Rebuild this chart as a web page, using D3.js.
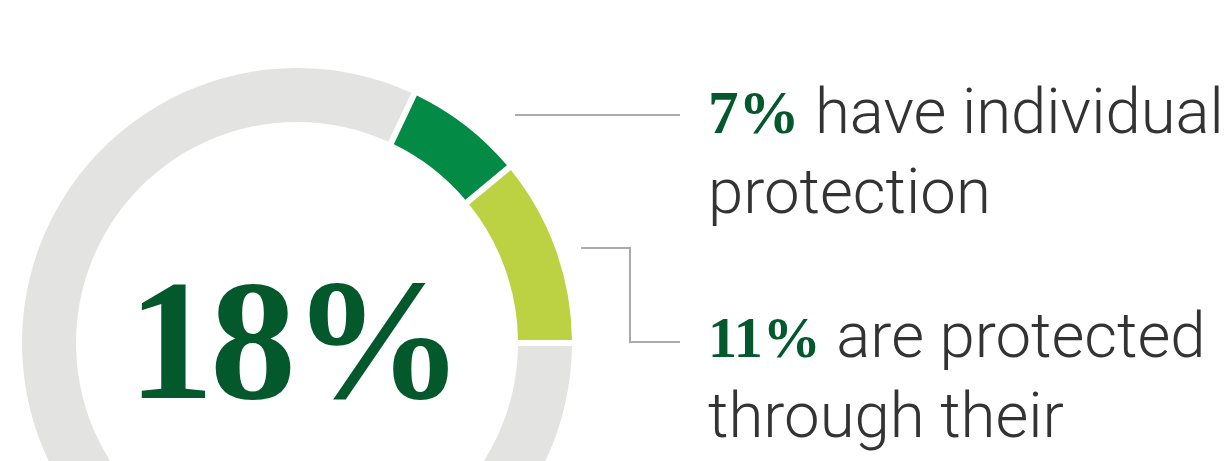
<!DOCTYPE html>
<html>
<head>
<meta charset="utf-8">
<script src="https://cdn.jsdelivr.net/npm/d3@7"></script>
<style>
  html, body { margin: 0; padding: 0; background: #fff; }
  svg { display: block; }
</style>
</head>
<body>
<svg width="1225" height="461"></svg>
<script>
// shares of people with protection (percent)
const categories = ['individual', 'employer', 'none'];
const values = [7, 11, 82];
const colors = ['#038a45', '#bdd243', '#e3e3e1'];
const totalLabel = '18%';
const labelLead = ['7%', '11%'];
const labelLines = [['have individual', 'protection'], ['are protected', 'through their']];

const svg = d3.select('svg');
const W = 1225, H = 461;
const cx = 297, cy = 343, R = 275, r = 221;

// protected shares end at 3 o'clock
const protectedShare = d3.sum(values.slice(0, 2)) / d3.sum(values);
const start = Math.PI / 2 - protectedShare * 2 * Math.PI;

const pie = d3.pie().sort(null).value(d => d)
  .startAngle(start).endAngle(start + 2 * Math.PI);
const arc = d3.arc().innerRadius(r).outerRadius(R)
  .padAngle(0.021).padRadius(290);

const g = svg.append('g').attr('transform', `translate(${cx},${cy})`);
g.selectAll('path').data(pie(values)).enter().append('path')
  .attr('d', arc)
  .attr('fill', (_, i) => colors[i]);

// big number in the middle
g.append('text')
  .attr('x', -3).attr('y', 55)
  .attr('text-anchor', 'middle')
  .attr('font-family', '"Liberation Serif", "DejaVu Serif", serif')
  .attr('font-weight', 700)
  .attr('font-size', 172)
  .attr('letter-spacing', -4)
  .attr('fill', '#03592b')
  .text(totalLabel);

// leader lines
const lineColor = '#aaaaaa';
svg.append('path')
  .attr('d', 'M515,115H680')
  .attr('fill', 'none').attr('stroke', lineColor).attr('stroke-width', 2);
svg.append('path')
  .attr('d', 'M581,248H630V342H680')
  .attr('fill', 'none').attr('stroke', lineColor).attr('stroke-width', 2);

// labels
const labelX = 708;
const baselines = [[133, 213], [357, 437]];
const leadSize = [61, 58];
labelLines.forEach((lines, i) => {
  const t = svg.append('text')
    .attr('x', labelX).attr('y', baselines[i][0])
    .attr('font-family', 'Roboto, "Liberation Sans", sans-serif')
    .attr('font-weight', 300)
    .attr('font-size', 63.5)
    .attr('fill', '#333333');
  t.append('tspan')
    .attr('font-family', '"Liberation Serif", "DejaVu Serif", serif')
    .attr('font-weight', 700)
    .attr('font-size', leadSize[i])
    .attr('fill', '#03592b')
    .text(labelLead[i]);
  t.append('tspan').text(' ' + lines[0]);
  svg.append('text')
    .attr('x', labelX).attr('y', baselines[i][1])
    .attr('font-family', 'Roboto, "Liberation Sans", sans-serif')
    .attr('font-weight', 300)
    .attr('font-size', 63.5)
    .attr('fill', '#333333')
    .text(lines[1]);
});
</script>
</body>
</html>
